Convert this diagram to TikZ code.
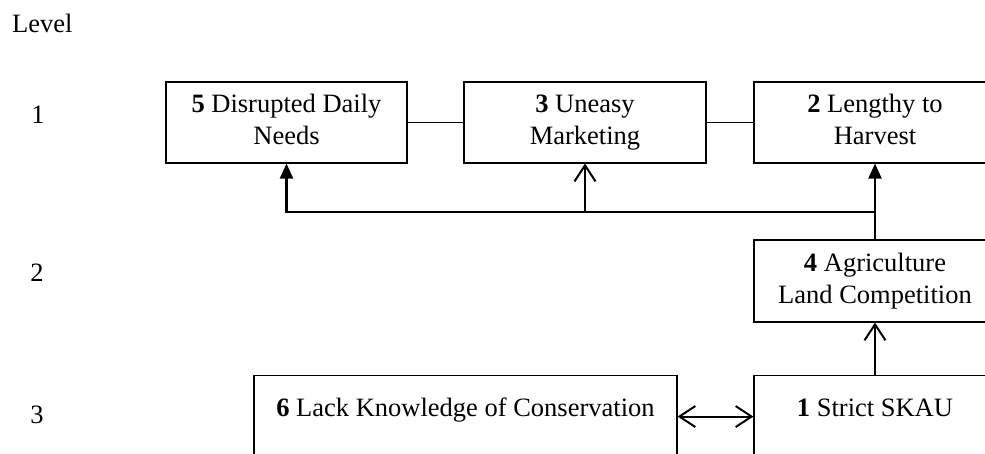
\documentclass[tikz,border=0pt]{standalone}
\usepackage{fontspec}
\setmainfont{Liberation Serif}
\usetikzlibrary{arrows.meta}

\begin{document}
\begin{tikzpicture}[x=1pt,y=1pt]
	\tikzstyle{factor}=[rectangle,draw=black,line width=1.1pt,minimum height=81pt,align=center,inner sep=0pt,font=\fontsize{26.5}{32}\selectfont]
	\tikzstyle{lowfactor}=[factor,text height=41pt,text depth=70pt,anchor=north]
	\tikzstyle{levelnum}=[anchor=base,inner sep=0pt,font=\fontsize{26.5}{32}\selectfont]
	\tikzstyle{fillhead}=[-{Triangle[length=15pt,width=13pt]},line width=2.3pt]
	\tikzstyle{openhead}=[-{Straight Barb[length=16pt,width=21pt]},line width=2pt]
	\tikzstyle{dblhead}=[{Straight Barb[length=16pt,width=21pt]}-{Straight Barb[length=16pt,width=21pt]},line width=2pt]

	\useasboundingbox (0,0) rectangle (985,454);
	\clip (0,0) rectangle (985,454);

	\node [levelnum,anchor=base west] (lv) at (12,421)	{Level};
	\node [levelnum] (l1) at (38,330)					{1};
	\node [levelnum] (l2) at (37,172)					{2};
	\node [levelnum] (l3) at (37,30)					{3};

	\node [factor,minimum width=241pt] (5) at (286.5,331.5)	{\textbf{5} Disrupted Daily\strut\\Needs\strut};
	\node [factor,minimum width=242pt] (3) at (585,331.5)	{\textbf{3} Uneasy\strut\\Marketing\strut};
	\node [factor,minimum width=242pt] (2) at (875,331.5)	{\textbf{2} Lengthy to\strut\\Harvest\strut};
	\node [factor,minimum width=242pt,minimum height=82pt] (4) at (875,173)	{\textbf{4} Agriculture\strut\\Land Competition\strut};
	\node [lowfactor,minimum width=242pt] (1) at (875,79)	{\textbf{1} Strict SKAU};
	\node [lowfactor,minimum width=423pt] (6) at (465.5,79)	{\textbf{6} Lack Knowledge of Conservation};
	\coordinate (bus) at (875,242);

	\draw [line width=1.1pt] (5) -- (3);
	\draw [line width=1.1pt] (3) -- (2);
	\draw [line width=2.3pt] (4.north) -- (bus);
	\draw [fillhead] (bus) -- (2.south);
	\draw [fillhead] (bus) -| (5.south);
	\draw [openhead] (bus -| 3.south) -- (3.south);
	\draw [openhead] (1.north) -- (4.south);
	\draw [dblhead] (6.base east) -- (1.base west);
\end{tikzpicture}
\end{document}
